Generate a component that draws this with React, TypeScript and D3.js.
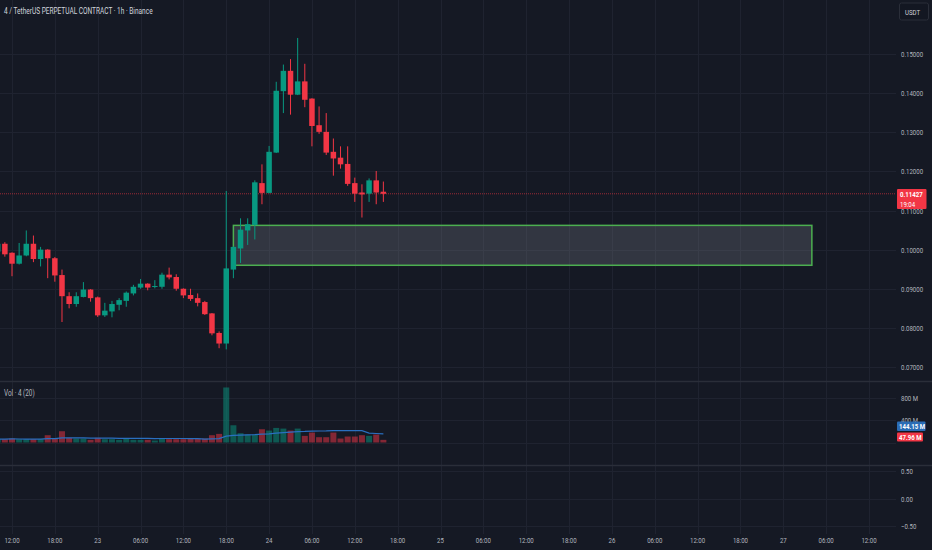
import { useEffect, useRef } from 'react';
import * as d3 from 'd3';

// hourly candles, first one is 22nd 10:00
const firstCandle = Date.UTC(2025, 6, 22, 10);
const opens = [
  0.0995, 0.1015, 0.0992, 0.0964, 0.0985, 0.1015, 0.0976, 0.1000, 0.0978, 0.0935, 0.0881, 0.0861, 0.0879, 0.0898,
  0.0878, 0.0832, 0.0842, 0.0859, 0.0869, 0.0888, 0.0903, 0.0913, 0.0905, 0.0905, 0.0936, 0.0930, 0.0900, 0.0884,
  0.0876, 0.0866, 0.0837, 0.0787, 0.0760, 0.0949, 0.1003, 0.1049, 0.1063, 0.1170, 0.1145, 0.1248, 0.1405, 0.1457,
  0.1396, 0.1430, 0.1386, 0.1318, 0.1301, 0.1250, 0.1235, 0.1219, 0.1170, 0.1146, 0.1143, 0.1177, 0.1148,
];
const highs = [
  0.1019, 0.1019, 0.0993, 0.1017, 0.1049, 0.1036, 0.1007, 0.1001, 0.0981, 0.0949, 0.0891, 0.0891, 0.0917, 0.0899,
  0.0880, 0.0864, 0.0869, 0.0876, 0.0893, 0.0910, 0.0925, 0.0914, 0.0922, 0.0941, 0.0954, 0.0937, 0.0901, 0.0900,
  0.0888, 0.0869, 0.0838, 0.0791, 0.1150, 0.1008, 0.1080, 0.1080, 0.1177, 0.1218, 0.1265, 0.1429, 0.1473, 0.1487,
  0.1541, 0.1475, 0.1387, 0.1366, 0.1349, 0.1284, 0.1264, 0.1264, 0.1184, 0.1167, 0.1182, 0.1201, 0.1174,
];
const lows = [
  0.0985, 0.0982, 0.0932, 0.0962, 0.0983, 0.0968, 0.0957, 0.0927, 0.0918, 0.0815, 0.0850, 0.0854, 0.0878, 0.0867,
  0.0828, 0.0828, 0.0827, 0.0845, 0.0854, 0.0883, 0.0900, 0.0896, 0.0901, 0.0900, 0.0924, 0.0895, 0.0876, 0.0869,
  0.0855, 0.0833, 0.0781, 0.0748, 0.0745, 0.0927, 0.0966, 0.1012, 0.1026, 0.1116, 0.1144, 0.1247, 0.1349, 0.1345,
  0.1395, 0.1364, 0.1264, 0.1296, 0.1242, 0.1189, 0.1207, 0.1163, 0.1122, 0.1082, 0.1122, 0.1116, 0.1122,
];
const closes = [
  0.1015, 0.0988, 0.0964, 0.0985, 0.1015, 0.0976, 0.1000, 0.0978, 0.0934, 0.0881, 0.0861, 0.0881, 0.0898, 0.0876,
  0.0832, 0.0844, 0.0861, 0.0871, 0.0890, 0.0905, 0.0913, 0.0903, 0.0907, 0.0936, 0.0929, 0.0900, 0.0883, 0.0874,
  0.0864, 0.0835, 0.0786, 0.0760, 0.0952, 0.1007, 0.1051, 0.1065, 0.1172, 0.1145, 0.1250, 0.1406, 0.1457, 0.1396,
  0.1430, 0.1383, 0.1316, 0.1301, 0.1248, 0.1233, 0.1218, 0.1168, 0.1143, 0.1141, 0.1177, 0.1146, 0.11427,
];
// volume in millions
const volumes = [
  60, 60, 72, 60, 60, 60, 60, 132, 72, 204, 84, 72, 72, 48,
  84, 60, 60, 48, 72, 48, 48, 48, 36, 72, 60, 60, 60, 72,
  72, 72, 132, 156, 996, 312, 168, 144, 144, 240, 216, 264, 252, 216,
  252, 120, 180, 96, 96, 180, 72, 108, 108, 132, 120, 144, 47.96,
];

const priceTicks = [0.07, 0.08, 0.09, 0.1, 0.11, 0.12, 0.13, 0.14, 0.15];
const volumeTicks = [400, 800];
const oscTicks = [0.5, 0, -0.5];
const zoneStart = Date.UTC(2025, 6, 23, 19);
const zoneEnd = Date.UTC(2025, 6, 27, 4);
const zoneTop = 0.1062;
const zoneBottom = 0.096;
const lastPrice = '0.11427';
const countdown = '19:04';
const maLabel = '144.15 M';
const volLabel = '47.96 M';

const UP = '#089981';
const DOWN = '#f23645';

export default function App() {
  const svgRef = useRef<SVGSVGElement>(null);

  useEffect(() => {
    if (!svgRef.current) return;
    const W = 932;
    const H = 550;
    const plotRight = 896;

    const svg = d3.select(svgRef.current);
    svg.selectAll('*').remove();

    const x = d3.scaleUtc()
      .domain([new Date(Date.UTC(2025, 6, 22, 12)), new Date(Date.UTC(2025, 6, 27, 12))])
      .range([12, 869]);
    const y = d3.scaleLinear().domain([0.07, 0.15]).range([367, 54]);
    const yVol = d3.scaleLinear().domain([0, 800]).range([442.5, 398.3]);
    const yOsc = d3.scaleLinear().domain([-0.5, 0.5]).range([525.7, 471.3]);

    const candles = opens.map((o, i) => ({
      t: new Date(firstCandle + i * 3600e3),
      o, h: highs[i], l: lows[i], c: closes[i], v: volumes[i],
    }));

    svg.append('rect').attr('width', W).attr('height', H).attr('fill', '#151924');

    const grid = svg.append('g').attr('stroke', '#1f2330').attr('stroke-width', 1);
    const timeTicks = x.ticks(d3.utcHour.every(6)!);
    grid.selectAll('line.v').data(timeTicks).join('line')
      .attr('x1', d => Math.round(x(d)) + 0.5).attr('x2', d => Math.round(x(d)) + 0.5)
      .attr('y1', 0).attr('y2', 534);
    const hline = (yy: number) => grid.append('line')
      .attr('x1', 0).attr('x2', plotRight).attr('y1', Math.round(yy) + 0.5).attr('y2', Math.round(yy) + 0.5);
    priceTicks.forEach(p => hline(y(p)));
    [0, ...volumeTicks].forEach(v => hline(yVol(v)));
    oscTicks.forEach(v => hline(yOsc(v)));

    // pane separators
    [381.5, 465.5].forEach(yy => svg.append('line')
      .attr('x1', 0).attr('x2', W).attr('y1', yy).attr('y2', yy)
      .attr('stroke', '#2a2e39').attr('stroke-width', 1.5));

    // demand zone
    svg.append('rect')
      .attr('x', x(new Date(zoneStart))).attr('y', y(zoneTop))
      .attr('width', x(new Date(zoneEnd)) - x(new Date(zoneStart)))
      .attr('height', y(zoneBottom) - y(zoneTop))
      .attr('fill', 'rgba(120,123,134,0.3)')
      .attr('stroke', '#4caf50').attr('stroke-width', 1.5);

    // last price line
    svg.append('line')
      .attr('x1', 0).attr('x2', plotRight).attr('y1', y(+lastPrice)).attr('y2', y(+lastPrice))
      .attr('stroke', 'rgba(242,54,69,0.6)').attr('stroke-dasharray', '1 1');

    const bw = 5.5;
    const cg = svg.append('g');
    cg.selectAll('line').data(candles).join('line')
      .attr('x1', d => x(d.t)).attr('x2', d => x(d.t))
      .attr('y1', d => y(d.h)).attr('y2', d => y(d.l))
      .attr('stroke', d => (d.c >= d.o ? UP : DOWN)).attr('stroke-width', 1);
    cg.selectAll('rect').data(candles).join('rect')
      .attr('x', d => x(d.t) - bw / 2)
      .attr('y', d => y(Math.max(d.o, d.c)))
      .attr('width', bw)
      .attr('height', d => Math.max(1, Math.abs(y(d.o) - y(d.c))))
      .attr('fill', d => (d.c >= d.o ? UP : DOWN));

    // volume
    const vw = 6;
    svg.append('g').selectAll('rect').data(candles).join('rect')
      .attr('x', d => x(d.t) - vw / 2)
      .attr('y', d => yVol(d.v))
      .attr('width', vw)
      .attr('height', d => yVol(0) - yVol(d.v))
      .attr('fill', d => (d.c >= d.o ? 'rgba(8,153,129,0.5)' : 'rgba(242,54,69,0.5)'));

    const ma = candles.map((d, i) => ({
      t: d.t,
      v: d3.mean(candles.slice(Math.max(0, i - 19), i + 1), c => c.v) as number,
    }));
    svg.append('path').datum(ma)
      .attr('fill', 'none').attr('stroke', '#2a6fc0').attr('stroke-width', 1.2)
      .attr('d', d3.line<{ t: Date; v: number }>().x(d => x(d.t)).y(d => yVol(d.v)));

    const text = (tx: number, ty: number, s: string, color = '#b2b5be', size = 8) =>
      svg.append('text')
        .attr('transform', `translate(${tx},${ty}) scale(0.76,1)`)
        .attr('font-family', 'Roboto, sans-serif')
        .attr('font-size', size)
        .attr('fill', color)
        .text(s);

    // axes
    priceTicks.forEach(p => text(901, y(p) + 3, d3.format('.5f')(p)));
    volumeTicks.forEach(v => text(901, yVol(v) + 3, `${v} M`));
    oscTicks.forEach(v => text(901, yOsc(v) + 3, d3.format('.2f')(v).replace('-', '\u2212')));
    timeTicks.forEach(t => {
      const s = t.getUTCHours() === 0 ? String(t.getUTCDate()) : d3.utcFormat('%H:%M')(t);
      text(x(t), 543, s).attr('text-anchor', 'middle')
        .attr('transform', `translate(${x(t)},543) scale(0.76,1)`);
    });

    // labels
    svg.append('rect').attr('x', 897).attr('y', 189).attr('width', 29.5).attr('height', 20)
      .attr('fill', DOWN).attr('rx', 1);
    text(900, 197, lastPrice, '#ffffff').attr('font-weight', 'bold');
    text(900, 206.5, countdown, '#ffffff');

    svg.append('rect').attr('x', 897).attr('y', 421.5).attr('width', 28.5).attr('height', 9.5)
      .attr('fill', '#2a6cb5').attr('rx', 1);
    text(899, 429, maLabel, '#ffffff').attr('font-weight', 'bold');
    svg.append('rect').attr('x', 897).attr('y', 432.5).attr('width', 26).attr('height', 9)
      .attr('fill', DOWN).attr('rx', 1);
    text(899, 440, volLabel, '#ffffff').attr('font-weight', 'bold');

    svg.append('rect').attr('x', 899.5).attr('y', 3).attr('width', 29).attr('height', 17)
      .attr('fill', '#131722').attr('stroke', '#2a2e39').attr('rx', 2);
    text(905, 14.5, 'USDT', '#d1d4dc');

    text(4, 14, '4 / TetherUS PERPETUAL CONTRACT \u00b7 1h \u00b7 Binance', '#d1d4dc', 8.6);
    text(4, 396, 'Vol \u00b7 4 (20)', '#b2b5be', 8.4);
  }, []);

  return (
    <svg
      ref={svgRef}
      width={932}
      height={550}
      style={{ position: 'absolute', left: 0, top: 0, display: 'block' }}
    />
  );
}
